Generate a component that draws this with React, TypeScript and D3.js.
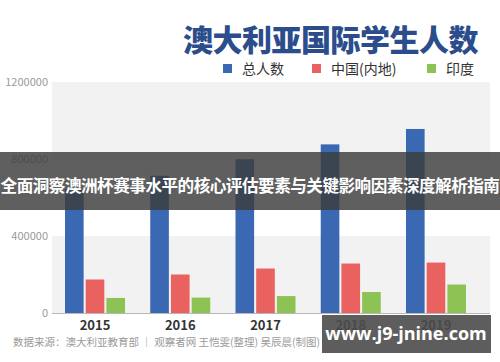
import React from 'react';
import * as d3 from 'd3';

const years = ['2015', '2016', '2017', '2018', '2019'];
const totalStudents = [645000, 713000, 799000, 876000, 956000];
const chinaStudents = [174000, 200000, 231000, 257000, 262000];
const indiaStudents = [78000, 80000, 88000, 109000, 148000];
const seriesNames = ['总人数', '中国(内地)', '印度'];
const seriesColors = ['#3a68b2', '#e9625f', '#8dc255'];
const yTicks = [0, 400000, 800000, 1200000];

const W = 500;
const H = 362;
const margin = { top: 82, right: 10, bottom: 49, left: 52 };
const FONT = '"Noto Sans CJK SC", "Noto Sans", sans-serif';

const App = () => {
    const innerBottom = H - margin.bottom;
    const x = d3.scaleBand().domain(years).range([margin.left, 479]).paddingInner(0.296).paddingOuter(0.1525);
    const y = d3.scaleLinear().domain([0, 1200000]).range([innerBottom, margin.top]);
    const series = [totalStudents, chinaStudents, indiaStudents];
    const sub = d3.scaleBand().domain(['0', '1', '2']).range([0, x.bandwidth()]).paddingInner(0.1).paddingOuter(0);

    return (
        <svg width={W} height={H} style={{ position: 'absolute', left: 0, top: 0, background: '#fff' }} fontFamily={FONT}>
            {/* alternating gray bands between ticks */}
            {d3.pairs(yTicks).map(([a, b], i) => (
                i % 2 === 0 ? (
                    <rect key={i} x={margin.left} y={y(b)} width={W - margin.right - margin.left} height={y(a) - y(b)} fill="#f2f2f2" />
                ) : null
            ))}
            {yTicks.map(t => (
                <text key={t} x={48} y={y(t) + 4} textAnchor="end" fontSize={11} fill="#9a9a9a">{t}</text>
            ))}
            {series.map((vals, si) => vals.map((v, i) => (
                <rect key={si + '-' + i} x={(x(years[i]) as number) + (sub(String(si)) as number)} y={y(v)}
                      width={sub.bandwidth()} height={innerBottom - y(v)} fill={seriesColors[si]} />
            )))}
            <line x1={margin.left} x2={W - margin.right} y1={innerBottom + 0.5} y2={innerBottom + 0.5} stroke="#b8b8b8" strokeWidth={1} />
            {years.map(yr => (
                <text key={yr} x={(x(yr) as number) + x.bandwidth() / 2} y={330} textAnchor="middle" fontSize={13} fontWeight="bold" fill="#333">{yr}</text>
            ))}
            <text x={478} y={51} textAnchor="end" fontSize={30} fontWeight={900} fill="#2b4d8c" letterSpacing={-0.5}>澳大利亚国际学生人数</text>
            {[223, 312, 427].map((lx, i) => (
                <g key={i}>
                    <rect x={lx} y={64} width={9} height={9} fill={seriesColors[i]} />
                    <text x={lx + 19} y={74} fontSize={14} fill="#333">{seriesNames[i]}</text>
                </g>
            ))}
            <text x={13} y={346} fontSize={10.5} fill="#9a9a9a">数据来源：澳大利亚教育部 ｜ 观察者网 王恺雯(整理) 吴辰晨(制图)</text>
            <rect x={0} y={152} width={W} height={58} fill="rgba(60,60,60,0.82)" />
            <text x={W / 2} y={192} textAnchor="middle" fontSize={16.6} fontWeight="bold" fill="#fff" letterSpacing={-0.5}>全面洞察澳洲杯赛事水平的核心评估要素与关键影响因素深度解析指南</text>
            <rect x={322} y={315} width={169} height={38} fill="rgba(75,75,75,0.9)" />
            <text x={406} y={340} textAnchor="middle" fontSize={18} fontWeight="bold" fill="#fff" fontFamily="'Open Sans', sans-serif">www.j9-jnine.com</text>
        </svg>
    );
};

export default App;
